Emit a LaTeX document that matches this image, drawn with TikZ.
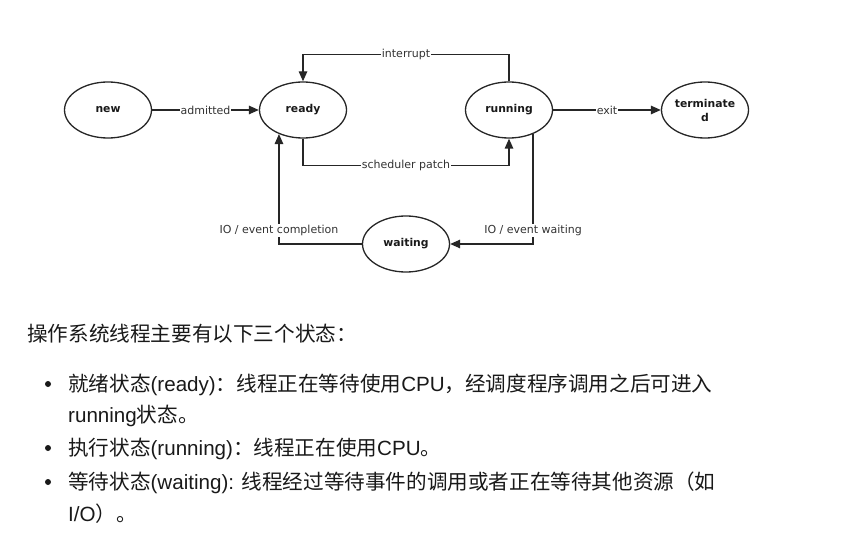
\documentclass[tikz,border=0pt]{standalone}
\usepackage{fontspec}
\setmainfont{DejaVu Sans}
\newfontfamily\cjk{Noto Sans CJK SC}
\newfontfamily\lat{Liberation Sans}
\usetikzlibrary{shapes.geometric,arrows.meta,calc}

\begin{document}
\begin{tikzpicture}[x=1pt,y=-1pt,
  state/.style={ellipse,draw=black!85,line width=1.3pt,minimum width=87pt,minimum height=56pt,inner sep=0pt,font=\fontsize{10.8}{14}\selectfont\bfseries,text=black!90},
  conn/.style={draw=black!85,line width=1.3pt,-{Triangle[length=10pt,width=8.5pt]}},
  lbl/.style={fill=white,inner sep=1pt,font=\fontsize{11}{13}\selectfont,text=black!80},
  body/.style={anchor=base west,inner sep=0pt,font=\fontsize{20.6}{24}\selectfont,text=black!90},
  dot/.style={circle,fill=black!90,inner sep=0pt,minimum size=6pt}]
\useasboundingbox (0,0) rectangle (859,537);

\node[state] (new) at (108,110) {new};
\node[state] (ready) at (303,110) {ready};
\node[state] (running) at (509,110) {running};
\node[state,align=center] (term) at (705,110) {terminate\\d};
\node[state] (wait) at (406,244) {waiting};

\draw[conn] (new) -- node[lbl]{admitted} (ready);
\draw[conn] (running) -- node[lbl]{exit} (term);
\draw[conn] (running.north) -- ++(0,-27) -| node[lbl,pos=0.25]{interrupt} (ready.north);
\draw[conn] (ready.south) -- ++(0,27) -| node[lbl,pos=0.25]{scheduler patch} (running.south);
\draw[conn] (running.-45) |- node[lbl,pos=0.44]{IO / event waiting} (wait.east);
\draw[conn] (wait.west) -| node[lbl,pos=0.56]{IO / event completion} (ready.225);

\node[body] (t0) at (27,341) {\cjk 操作系统线程主要有以下三个状态：};
\node[dot] (b1) at (48,384) {};
\node[body] (t1) at (68,391) {\cjk 就绪状态{\lat (ready)}：线程正在等待使用{\lat CPU}，经调度程序调用之后可进入};
\node[body] (t1b) at (68,422) {{\lat running}\cjk 状态。};
\node[dot] (b2) at (48,448) {};
\node[body] (t2) at (68,455) {\cjk 执行状态{\lat (running)}：线程正在使用{\lat CPU}。};
\node[dot] (b3) at (48,482) {};
\node[body] (t3) at (68,489) {\cjk 等待状态{\lat (waiting): }线程经过等待事件的调用或者正在等待其他资源（如};
\node[body] (t3b) at (68,521) {{\lat I/O}\cjk ）。};
\end{tikzpicture}
\end{document}
